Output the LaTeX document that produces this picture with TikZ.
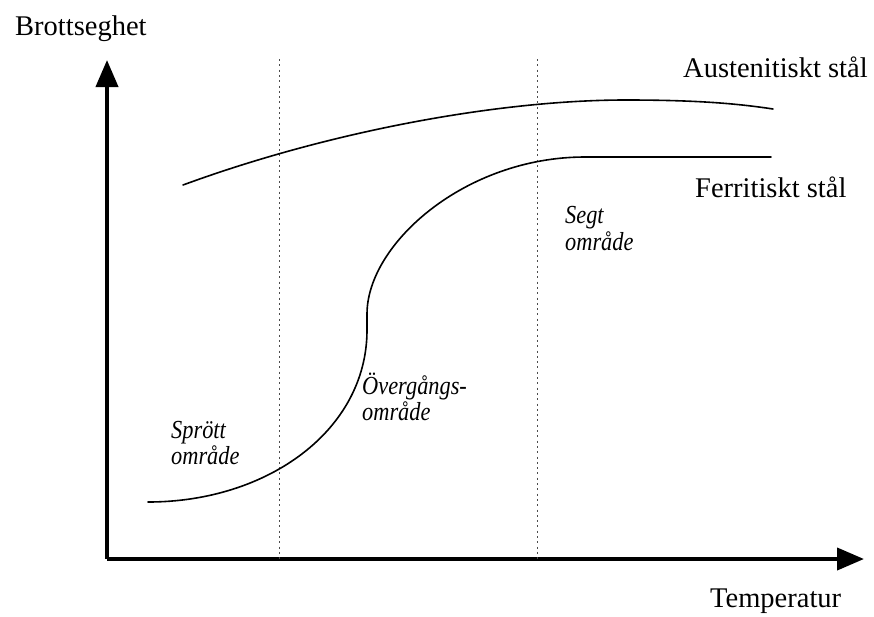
\documentclass[tikz,border=0pt]{standalone}
\usepackage{fontspec}
\setmainfont{Liberation Serif}
\usetikzlibrary{arrows.meta}
\newcommand{\narrowtext}[1]{\scalebox{0.86}[1]{#1}}
\tikzset{
  axisline/.style={line width=4pt, -{Triangle[length=27pt,width=22pt]}},
  curveline/.style={line width=1.6pt, line cap=round},
  guideline/.style={line width=0.9pt, black!70, dash pattern=on 2pt off 3.3pt},
  biglabel/.style={anchor=base west, inner sep=0pt, font=\fontsize{28.5}{30}\selectfont},
  regionlabel/.style={anchor=base west, inner sep=0pt, font=\fontsize{26}{28}\selectfont\itshape}
}
\begin{document}
\begin{tikzpicture}[x=1pt,y=-1pt]
\useasboundingbox (0,0) rectangle (874,616);
% axes
\coordinate (origin) at (107,559);
\coordinate (ytip) at (107,60);
\coordinate (xtip) at (864,559);
\draw[axisline] (origin) -- (ytip);
\draw[axisline] (origin) -- (xtip);
% dotted guide lines
\coordinate (g1top) at (279,59);
\coordinate (g1bot) at (279,559);
\coordinate (g2top) at (537,59);
\coordinate (g2bot) at (537,559);
\draw[guideline] (g1top) -- (g1bot);
\draw[guideline] (g2top) -- (g2bot);
% austenitic curve
\coordinate (a0) at (183,185);
\coordinate (a1) at (626,100);
\coordinate (a2) at (773,109);
\draw[curveline] (a0) .. controls (330,131) and (500,100) .. (a1)
  .. controls (700,100) and (740,104) .. (a2);
% ferritic curve
\coordinate (f0) at (148,502);
\coordinate (f1) at (367,330);
\coordinate (f2) at (367,314);
\coordinate (f3) at (585,157);
\coordinate (f4) at (771,157);
\draw[curveline] (f0) .. controls (268,502) and (367,430) .. (f1)
  -- (f2) .. controls (367,244) and (465,157) .. (f3) -- (f4);
% labels
\node[biglabel] (ylab) at (15,35) {Brottseghet};
\node[biglabel] (xlab) at (710,607) {Temperatur};
\node[biglabel] (alab) at (683,77) {Austenitiskt stål};
\node[biglabel] (flab) at (695,197) {Ferritiskt stål};
\node[regionlabel] (segt1) at (565,223) {\narrowtext{Segt}};
\node[regionlabel] (segt2) at (565,250) {\narrowtext{område}};
\node[regionlabel] (overg1) at (362,394) {\narrowtext{Övergångs-}};
\node[regionlabel] (overg2) at (362,420) {\narrowtext{område}};
\node[regionlabel] (sprott1) at (171,438) {\narrowtext{Sprött}};
\node[regionlabel] (sprott2) at (171,464) {\narrowtext{område}};
\end{tikzpicture}
\end{document}
